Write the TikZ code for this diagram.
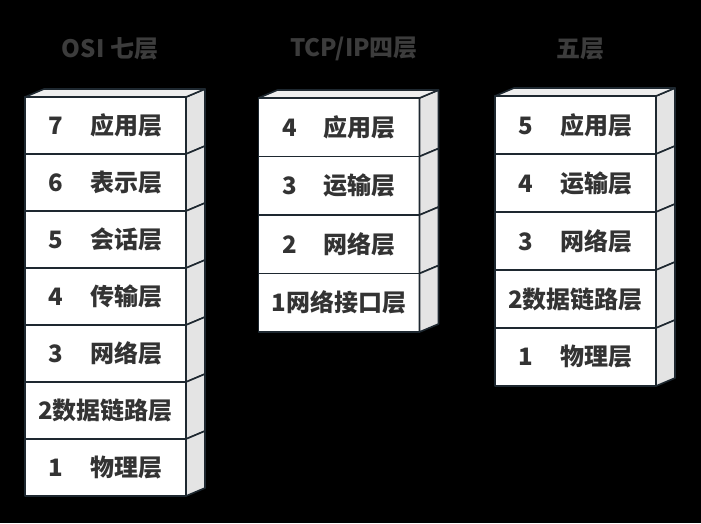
\documentclass[tikz,border=0pt]{standalone}
\usepackage{fontspec}
\IfFontExistsTF{Noto Sans CJK SC Black}
  {\setmainfont{Noto Sans CJK SC Black}}
  {\setmainfont{Noto Sans CJK SC Bold}}
\usetikzlibrary{positioning,calc}

\definecolor{edge}{HTML}{1E2830}
\definecolor{ink}{HTML}{333333}
\definecolor{title}{HTML}{3C3C3C}
\definecolor{sideface}{HTML}{E4E4E4}
\definecolor{topface}{HTML}{EEEEEE}

\begin{document}
\begin{tikzpicture}[
    x=1pt, y=-1pt,
    font=\fontsize{24}{27}\selectfont,
    layer/.style={
      draw=edge, fill=white, line width=1.6pt, line join=round,
      minimum width=161pt, minimum height=#1, inner sep=0pt,
      outer sep=0pt, text=ink,
    },
    face/.style={draw=edge, line width=1.6pt, line join=round},
    head/.style={text=title, font=\fontsize{24}{27}\selectfont},
  ]
    % ===== background =====
    \fill[black] (0,0) rectangle (701,523);

    % ===== titles =====
    \node[head] (osihead) at (110,49) {OSI 七层};
    \node[head] (tcphead) at (354,49) {TCP/IP四层};
    \node[head] (fivehead) at (580,49) {五层};

    % ===== OSI seven layers =====
    \foreach \i/\txt in {1/{7\hspace{1.1em}应用层}, 2/{6\hspace{1.1em}表示层},
        3/{5\hspace{1.1em}会话层}, 4/{4\hspace{1.1em}传输层},
        5/{3\hspace{1.1em}网络层}, 6/{2数据链路层}, 7/{1\hspace{1.1em}物理层}} {
      \node[layer=57pt] (osi\i) at (105.5, 97+57*\i-28.5) {\raisebox{-2pt}{\txt}};
      \draw[face, fill=sideface] (osi\i.north east) -- ++(19,-8)
        -- ($(osi\i.south east)+(19,-8)$) -- (osi\i.south east) -- cycle;
    }
    \draw[face, fill=topface] (osi1.north west) -- ++(19,-8) -- ($(osi1.north east)+(19,-8)$)
      -- (osi1.north east) -- cycle;

    % ===== TCP/IP four layers =====
    \foreach \i/\txt in {1/{4\hspace{1.1em}应用层}, 2/{3\hspace{1.1em}运输层},
        3/{2\hspace{1.1em}网络层}, 4/{1网络接口层}} {
      \node[layer=58.5pt] (tcp\i) at (339, 98+58.5*\i-29.25) {\raisebox{-2pt}{\txt}};
      \draw[face, fill=sideface] (tcp\i.north east) -- ++(19,-8)
        -- ($(tcp\i.south east)+(19,-8)$) -- (tcp\i.south east) -- cycle;
    }
    \draw[face, fill=topface] (tcp1.north west) -- ++(19,-8) -- ($(tcp1.north east)+(19,-8)$)
      -- (tcp1.north east) -- cycle;

    % ===== five layers =====
    \foreach \i/\txt in {1/{5\hspace{1.1em}应用层}, 2/{4\hspace{1.1em}运输层},
        3/{3\hspace{1.1em}网络层}, 4/{2数据链路层}, 5/{1\hspace{1.1em}物理层}} {
      \node[layer=58pt] (five\i) at (575.5, 96+58*\i-29) {\raisebox{-2pt}{\txt}};
      \draw[face, fill=sideface] (five\i.north east) -- ++(19,-8)
        -- ($(five\i.south east)+(19,-8)$) -- (five\i.south east) -- cycle;
    }
    \draw[face, fill=topface] (five1.north west) -- ++(19,-8) -- ($(five1.north east)+(19,-8)$)
      -- (five1.north east) -- cycle;
  \end{tikzpicture}
\end{document}
